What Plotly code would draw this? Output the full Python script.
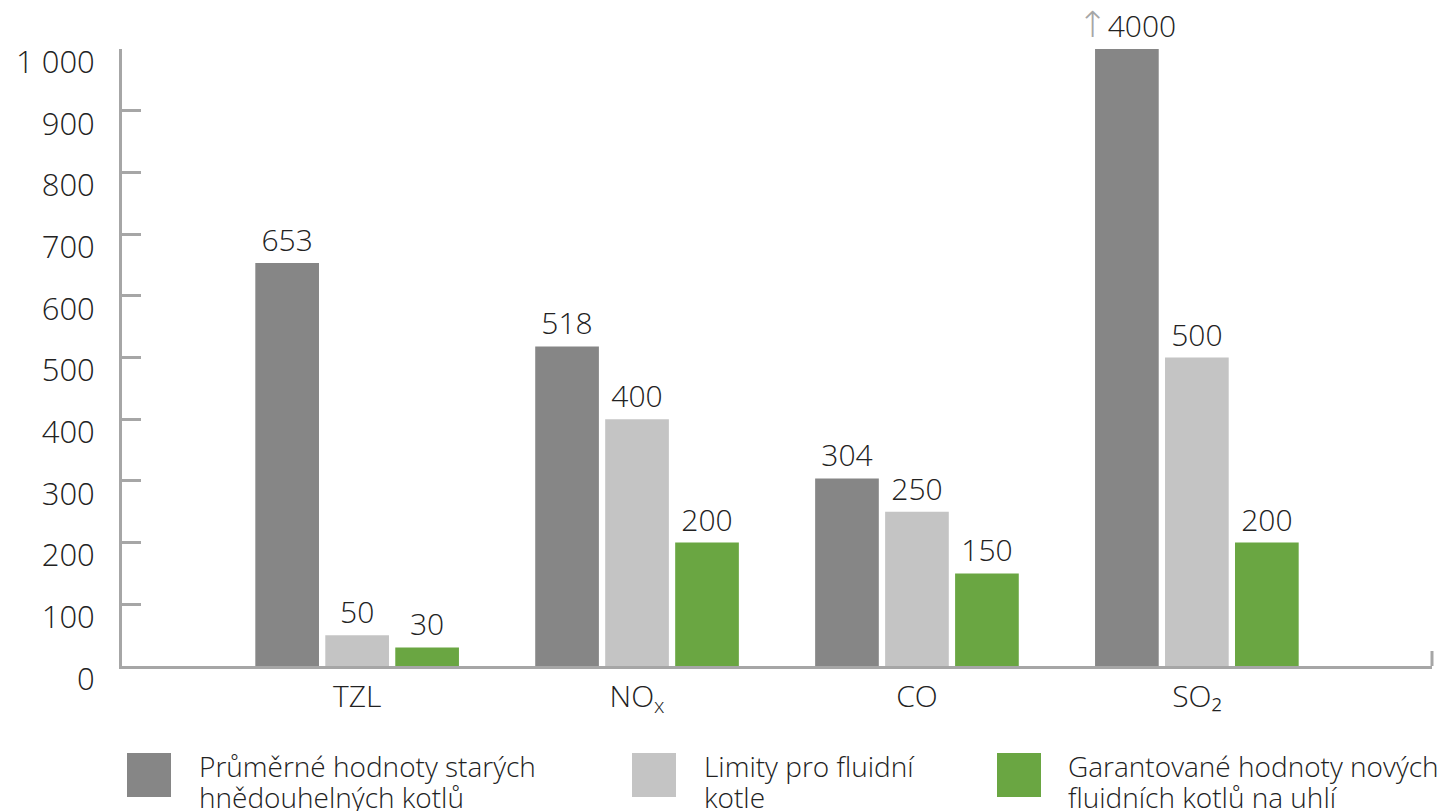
import plotly.graph_objects as go

categories = ["TZL", "NO<sub>x</sub>", "CO", "SO₂"]
series_names = [
    "Průměrné hodnoty starých<br>hnědouhelných kotlů",
    "Limity pro fluidní<br>kotle",
    "Garantované hodnoty nových<br>fluidních kotlů na uhlí",
]
old_values = [653, 518, 304, 4000]
limit_values = [50, 400, 250, 500]
new_values = [30, 200, 150, 200]
y_ticks = [0, 100, 200, 300, 400, 500, 600, 700, 800, 900, 1000]
Y_MAX = 1000

colors = ["#868686", "#c4c4c4", "#6aa642"]
AXIS = "#a6a6a6"
TEXT = "#222222"
FONT = "Open Sans"
WEIGHT = 300

W, H = 1439, 811
L, R, T, B = 122, 7, 49, 145

fig = go.Figure()
for vals, col in zip([old_values, limit_values, new_values], colors):
    shown = [min(v, Y_MAX) for v in vals]
    labels = [
        str(v) if v <= Y_MAX
        else f"<span style='color:{AXIS};font-size:36px;font-family:DejaVu Sans'>↑</span>{v}"
        for v in vals
    ]
    fig.add_trace(go.Bar(
        x=categories, y=shown, marker=dict(color=col, line=dict(width=0)),
        text=labels, textposition="outside", cliponaxis=False, constraintext="none",
        textfont=dict(family=FONT, size=30, color=TEXT, weight=WEIGHT),
        showlegend=False, hoverinfo="skip",
    ))

fig.update_layout(
    width=W, height=H,
    margin=dict(l=L, r=R, t=T, b=B, autoexpand=False),
    paper_bgcolor="white", plot_bgcolor="white",
    barmode="group", bargap=0.25, bargroupgap=0.09,
    separators=", ",
    font=dict(family=FONT, color=TEXT, weight=WEIGHT),
)
fig.update_xaxes(
    range=[-0.84, 3.84], showgrid=False, showline=True, linecolor=AXIS, linewidth=3,
    ticks="", tickfont=dict(family=FONT, size=30, color=TEXT, weight=WEIGHT),
    ticklabelstandoff=2, zeroline=False,
)
fig.update_yaxes(
    range=[0, Y_MAX], tickvals=y_ticks, tickformat=",d", showgrid=False, showline=True,
    linecolor=AXIS, linewidth=3, ticks="inside", ticklen=19, tickwidth=3, tickcolor=AXIS,
    tickfont=dict(family=FONT, size=31, color=TEXT, weight=WEIGHT), ticklabelstandoff=18,
    ticklabelshift=13, zeroline=False,
)

# right end tick of the x axis
fig.add_shape(type="line", xref="paper", yref="paper", x0=1, x1=1, y0=0, y1=15 / (H - T - B),
              line=dict(color=AXIS, width=3))

# custom legend (large square swatches)
pw, ph = W - L - R, H - T - B
def px(x):
    return (x - L) / pw
def py(y):
    return (H - B - y) / ph

swatch_left = [127, 632, 997]
text_left = [197, 702, 1066]
for name, col, sx, tx in zip(series_names, colors, swatch_left, text_left):
    fig.add_shape(type="rect", xref="paper", yref="paper",
                  x0=px(sx), x1=px(sx + 44), y0=py(797), y1=py(753),
                  fillcolor=col, line=dict(width=0))
    for i, line in enumerate(name.split("<br>")):
        fig.add_annotation(xref="paper", yref="paper", x=px(tx), y=py(766 + 31 * i),
                           xanchor="left", yanchor="middle", align="left", showarrow=False,
                           text=line, font=dict(family=FONT, size=28, color=TEXT, weight=WEIGHT))

fig.write_html(
    "out.html",
    config={"displayModeBar": False},
    post_script="document.body.style.margin='0';document.body.style.overflow='hidden';",
)
